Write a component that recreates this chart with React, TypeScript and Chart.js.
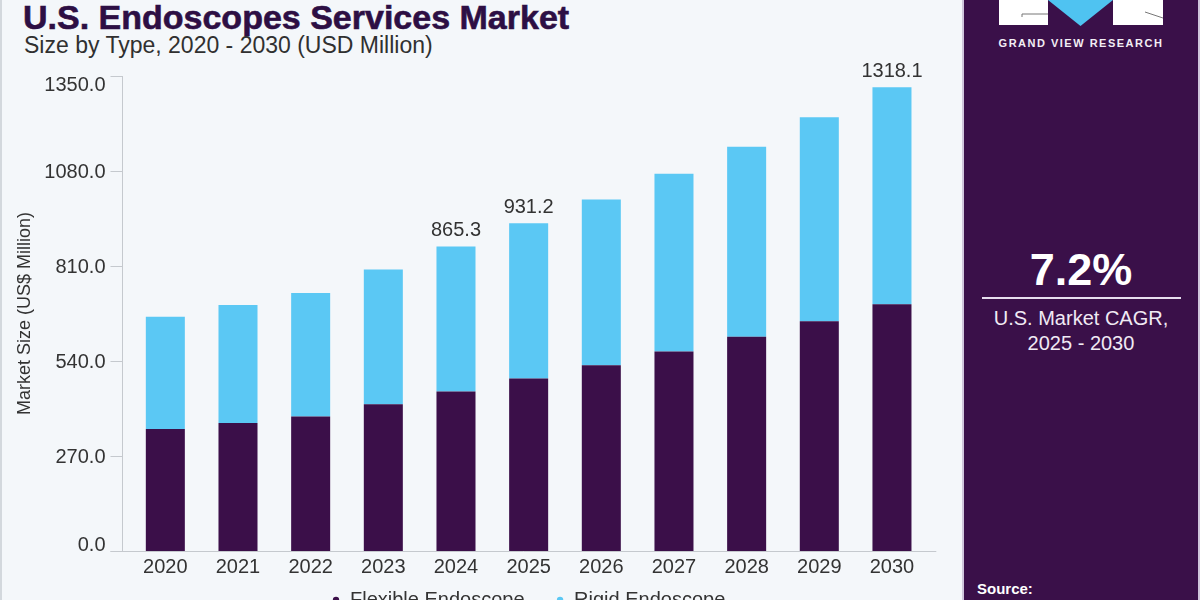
import { useEffect, useRef } from 'react';
import { Chart, registerables } from 'chart.js';

Chart.register(...registerables);

// Market size by type, USD million
const years = ['2020', '2021', '2022', '2023', '2024', '2025', '2026', '2027', '2028', '2029', '2030'];
const flexibleEndoscope = [347, 364, 382, 417, 453, 490, 528, 567, 609, 653, 701];
const marketTotal = [666, 699, 733, 800, 865.3, 931.2, 999, 1072, 1149, 1233, 1318.1];
const rigidEndoscope = marketTotal.map((t, i) => Math.round((t - flexibleEndoscope[i]) * 10) / 10);
const labelledYears = ['2024', '2025', '2030'];
const yTicks = [0, 270, 540, 810, 1080, 1350];
const seriesNames = ['Flexible Endoscope', 'Rigid Endoscope'];

const DARK = '#3b0f49';
const BLUE = '#5bc8f4';
const TEXT = '#333333';
const AXIS = '#c5c9ce';
const FONT = "'Liberation Sans', Arial, sans-serif";

// Draws the offset y axis line, its tick marks, both axes' labels and the baseline
const axisPlugin = {
  id: 'axisPlugin',
  afterDatasetsDraw(chart: any) {
    const { ctx, chartArea, scales } = chart;
    const y = scales.y;
    const x = scales.x;
    const axisX = chartArea.left - 6.5;
    ctx.save();
    ctx.strokeStyle = AXIS;
    ctx.lineWidth = 1;
    ctx.beginPath();
    ctx.moveTo(axisX, chartArea.top);
    ctx.lineTo(axisX, chartArea.bottom);
    yTicks.forEach((v) => {
      const py = Math.round(y.getPixelForValue(v)) + 0.5;
      ctx.moveTo(axisX - 12, py);
      ctx.lineTo(axisX, py);
    });
    const by = Math.round(chartArea.bottom) + 0.5;
    ctx.moveTo(axisX - 12, by);
    ctx.lineTo(chartArea.right + 8, by);
    ctx.stroke();

    ctx.fillStyle = TEXT;
    ctx.font = `20px ${FONT}`;
    ctx.textAlign = 'right';
    ctx.textBaseline = 'alphabetic';
    const top = yTicks[yTicks.length - 1];
    yTicks.forEach((v) => {
      const py = y.getPixelForValue(v);
      let base = py + 7;
      if (v === 0) base = py;
      else if (v === top) base = py + 14.5;
      ctx.fillText(v.toFixed(1), axisX - 17, base);
    });

    ctx.textAlign = 'center';
    years.forEach((yr, i) => {
      ctx.fillText(yr, x.getPixelForValue(i), chartArea.bottom + 21.5);
    });
    ctx.restore();
  },
};

// Total value written above selected bars
const totalLabelPlugin = {
  id: 'totalLabelPlugin',
  afterDatasetsDraw(chart: any) {
    const { ctx } = chart;
    const meta = chart.getDatasetMeta(1);
    ctx.save();
    ctx.fillStyle = TEXT;
    ctx.font = `20px ${FONT}`;
    ctx.textAlign = 'center';
    ctx.textBaseline = 'alphabetic';
    years.forEach((yr, i) => {
      if (!labelledYears.includes(yr)) return;
      const bar = meta.data[i];
      ctx.fillText(marketTotal[i].toFixed(1), bar.x, bar.y - 10.5);
    });
    ctx.restore();
  },
};

function MarketChart() {
  const ref = useRef<HTMLCanvasElement | null>(null);

  useEffect(() => {
    if (!ref.current) return;
    const chart = new Chart(ref.current, {
      type: 'bar',
      data: {
        labels: years,
        datasets: [
          {
            label: seriesNames[0],
            data: flexibleEndoscope,
            backgroundColor: DARK,
            borderWidth: 0,
            barPercentage: 0.537,
            categoryPercentage: 1,
          },
          {
            label: seriesNames[1],
            data: rigidEndoscope,
            backgroundColor: BLUE,
            borderWidth: 0,
            barPercentage: 0.537,
            categoryPercentage: 1,
          },
        ],
      },
      options: {
        responsive: false,
        animation: false,
        devicePixelRatio: 1,
        layout: { padding: { left: 0, right: 31.7, top: 76, bottom: 0 } },
        font: { family: FONT },
        plugins: {
          tooltip: { enabled: false },
          legend: {
            position: 'bottom',
            fullSize: false,
            labels: {
              usePointStyle: true,
              pointStyle: 'circle',
              boxWidth: 8,
              boxHeight: 4.5,
              padding: 31.5,
              color: TEXT,
              font: { size: 20, family: FONT },
            },
          },
        },
        scales: {
          x: {
            stacked: true,
            offset: true,
            grid: { display: false },
            border: { display: false },
            ticks: { display: false },
            afterFit: (s: any) => {
              s.height = 7.5;
            },
          },
          y: {
            stacked: true,
            min: 0,
            max: 1350,
            grid: { display: false },
            border: { display: false },
            ticks: { display: false },
            afterBuildTicks: (s: any) => {
              s.ticks = yTicks.map((v) => ({ value: v }));
            },
            afterFit: (s: any) => {
              s.width = 129;
            },
            title: {
              display: true,
              text: 'Market Size (US$ Million)',
              color: TEXT,
              font: { size: 18, family: FONT },
              padding: { top: 14, bottom: 0 },
            },
          },
        },
      },
      plugins: [axisPlugin, totalLabelPlugin],
    });
    return () => chart.destroy();
  }, []);

  return (
    <canvas
      ref={ref}
      width={960}
      height={620}
      style={{ position: 'absolute', left: 0, top: 0, width: 960, height: 620 }}
    />
  );
}

export default function App() {
  useEffect(() => {
    document.body.style.margin = '0';
  }, []);

  return (
    <div
      style={{
        position: 'fixed',
        left: 0,
        top: 0,
        width: 1200,
        height: 600,
        overflow: 'hidden',
        background: '#f4f7fa',
        fontFamily: FONT,
      }}
    >
      <div style={{ position: 'absolute', left: 0, top: 0, width: 2, height: 600, background: '#d3d8dd' }} />
      <div
        style={{
          position: 'absolute',
          left: 23,
          top: 0,
          fontSize: 34,
          lineHeight: '34px',
          fontWeight: 700,
          color: '#2d0f44',
          whiteSpace: 'nowrap',
          WebkitTextStroke: '0.6px #2d0f44',
        }}
      >
        U.S. Endoscopes Services Market
      </div>
      <div
        style={{
          position: 'absolute',
          left: 24,
          top: 34,
          fontSize: 23,
          lineHeight: '23px',
          color: '#303030',
          whiteSpace: 'nowrap',
        }}
      >
        Size by Type, 2020 - 2030 (USD Million)
      </div>

      <MarketChart />

      <div
        style={{
          position: 'absolute',
          left: 962,
          top: 0,
          width: 234,
          height: 600,
          background: '#3a1049',
          borderLeft: '2px solid #cfc5db',
          borderRight: '2px solid #cfc5db',
        }}
      >
        <svg width={234} height={40} style={{ position: 'absolute', left: 0, top: 0 }}>
          <rect x={35} y={-2} width={49} height={27} fill="#ffffff" />
          <polyline points="58,17 58,14 84,14" fill="none" stroke="#777777" strokeWidth={1} />
          <polygon points="84,0 149,0 116.5,26" fill="#4fc3f1" />
          <rect x={149} y={-2} width={50} height={27} fill="#ffffff" />
          <line x1={181} y1={12} x2={199} y2={18} stroke="#777777" strokeWidth={1} />
        </svg>
        <div
          style={{
            position: 'absolute',
            left: 0,
            width: 234,
            top: 36,
            textAlign: 'center',
            fontSize: 11,
            lineHeight: '14px',
            fontWeight: 700,
            letterSpacing: 1.5,
            color: '#f2eef5',
          }}
        >
          GRAND VIEW RESEARCH
        </div>
        <div
          style={{
            position: 'absolute',
            left: 0,
            width: 234,
            top: 247,
            textAlign: 'center',
            fontSize: 45,
            lineHeight: '45px',
            fontWeight: 700,
            color: '#ffffff',
          }}
        >
          7.2%
        </div>
        <div style={{ position: 'absolute', left: 18, top: 297, width: 199, height: 2, background: '#e6deee' }} />
        <div
          style={{
            position: 'absolute',
            left: 0,
            width: 234,
            top: 306,
            textAlign: 'center',
            fontSize: 20,
            lineHeight: '25px',
            color: '#f0eaf4',
          }}
        >
          U.S. Market CAGR,
          <br />
          2025 - 2030
        </div>
        <div
          style={{
            position: 'absolute',
            left: 13,
            top: 581,
            fontSize: 15,
            lineHeight: '15px',
            fontWeight: 700,
            color: '#ffffff',
          }}
        >
          Source:
        </div>
      </div>
    </div>
  );
}
